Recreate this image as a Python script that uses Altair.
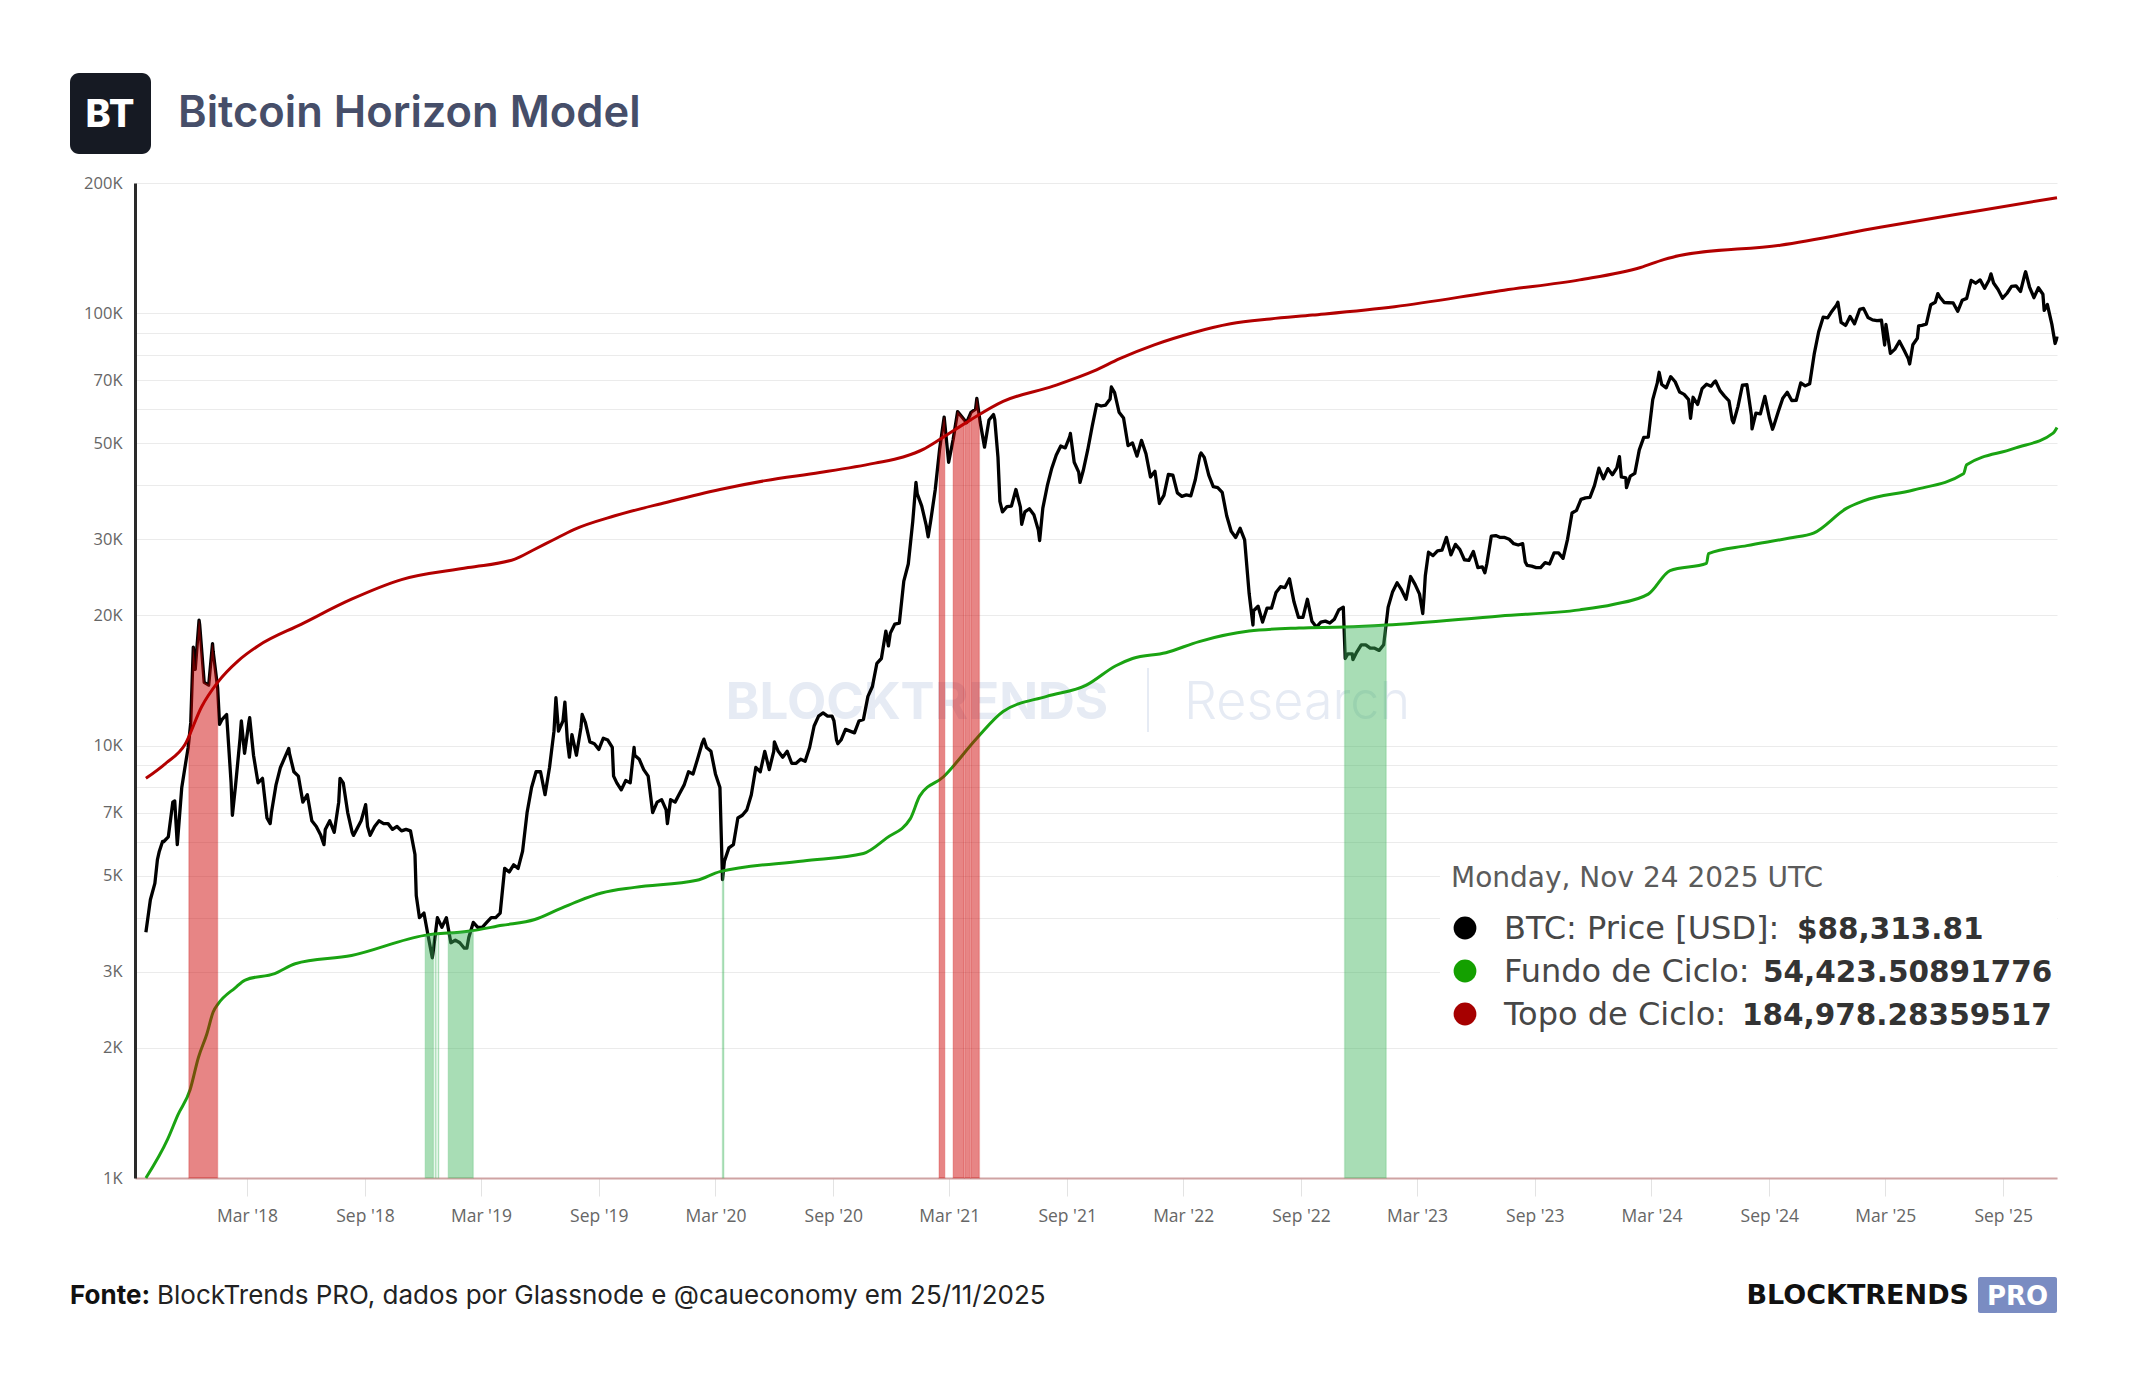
import altair as alt
import numpy as np
import pandas as pd

# ---------------- data ----------------
# weekly BTC closes, each list starts on the given Sunday
price_2017_start = "2017-09-24"
price_2017 = [3700, 4400, 4800, 5700, 6000, 6150, 7400, 5900, 8000, 9300, 11300, 15000, 19000, 14000, 13800]
price_2018_start = "2018-01-07"
price_2018 = [16500, 13600, 11500, 11800, 8200, 8100, 10400, 9600, 11400, 9500, 8200, 8400, 6800, 7000,
              8100, 8900, 9400, 9600, 8700, 8500, 7400, 7700, 6700, 6500, 6200, 6400, 6700, 6300, 7400,
              8200, 7000, 6300, 6400, 6700, 7300, 6200, 6500, 6700, 6600, 6600, 6400, 6500, 6350, 6400,
              6350, 5600, 4000, 4100, 3600, 3300, 4000, 3800]
price_2019_start = "2019-01-06"
price_2019 = [4000, 3500, 3550, 3500, 3400, 3600, 3900, 3800, 3800, 3900, 4000, 4000, 4100, 5200, 5100,
              5300, 5200, 5700, 7000, 8000, 8700, 8700, 7700, 8900, 10800, 10800, 11400, 10200, 10600,
              9500, 11000, 11300, 10200, 10100, 9800, 10400, 10300, 9900, 8200, 7900, 8300, 8200, 9500,
              9300, 8800, 8500, 7000, 7400, 7500, 7100, 7500, 7400]
price_2020_start = "2020-01-05"
price_2020 = [7750, 8100, 8700, 8600, 9300, 10100, 9900, 9700, 8600, 8000, 5400, 5800, 5900, 6800, 6900,
              7100, 7700, 8900, 8700, 9700, 8800, 9700, 9700, 9400, 9700, 9100, 9100, 9300, 9200, 9900,
              11100, 11700, 11900, 11700, 11700, 10300, 10300, 10900, 10800, 10700, 11400, 11500, 13000,
              13700, 15500, 15900, 18400, 18200, 19100, 19200, 24000, 26300]
price_2021_start = "2021-01-03"
price_2021 = [33000, 38200, 35800, 32300, 33100, 39000, 48600, 57500, 45200, 51000, 59200, 57500, 55800,
              59000, 60000, 56200, 49000, 56600, 58300, 46400, 34700, 35700, 35800, 39100, 35600, 34700,
              35300, 34200, 31500, 35400, 39900, 43800, 47000, 49300, 48800, 51800, 45200, 42900, 43200,
              48200, 54700, 61500, 61000, 61300, 63300, 65500, 59000, 57200, 49400, 50100, 46700, 50800]
price_2022_start = "2022-01-02"
price_2022 = [47300, 41800, 43100, 36300, 37900, 42400, 42200, 38400, 37700, 38000, 37800, 41200, 46800,
              46400, 42200, 39700, 39500, 38500, 34000, 31300, 30300, 31800, 29900, 22500, 20500, 21000,
              19300, 20800, 20800, 22600, 23300, 23200, 24300, 21500, 19800, 19800, 21800, 19400, 18800,
              19300, 19400, 19200, 19600, 20600, 20900, 16300, 16300, 16450, 17100, 17100, 16800, 16800]
price_2023_start = "2023-01-01"
price_2023 = [16600, 17100, 20900, 22700, 23800, 22900, 21800, 24600, 23600, 22400, 22100, 28000, 27500,
              28200, 28300, 30300, 27600, 29200, 28400, 26900, 26800, 28100, 25800, 25900, 26300, 30500,
              30600, 30300, 30300, 30000, 29300, 29100, 29300, 26100, 26000, 25800, 25800, 26500, 26300,
              27900, 27900, 27100, 30000, 34500, 35000, 37100, 37400, 37500, 39900, 43800, 41400, 43700,
              42300]
price_2024_start = "2024-01-07"
price_2024 = [43900, 41800, 41600, 42000, 42600, 48300, 51600, 51700, 63100, 68900, 68400, 67200, 71300,
              69400, 65700, 64900, 63100, 63900, 61500, 66900, 68500, 67800, 69700, 66200, 64300, 62700,
              55800, 60800, 68200, 68300, 58100, 58700, 58500, 64200, 57300, 54900, 59200, 63600, 65600,
              62800, 62900, 69000, 67900, 68700, 80400, 90600, 97900, 97500, 101200, 104500, 95200, 93700]
price_2025_start = "2025-01-05"
price_2025 = [98300, 94500, 101000, 102600, 97700, 96500, 96100, 96300, 94200, 80700, 82600, 86100, 82300,
              78400, 84500, 87500, 93700, 94300, 104600, 106000, 109000, 105800, 105700, 105600, 101000,
              107100, 108200, 119100, 117300, 119400, 114200, 119300, 117400, 113400, 108300, 111200,
              115300, 115700, 112200, 123500, 115100, 108600, 114500, 110600, 104700, 94200, 86800]
# intra-week swings and the last value
extra_dates = ["2017-10-12", "2017-10-20", "2017-11-08", "2017-11-29", "2017-12-07", "2017-12-16",
               "2018-01-06", "2018-01-17", "2018-02-06", "2018-02-20", "2018-03-05", "2018-04-06",
               "2018-05-05", "2018-06-29", "2018-07-24", "2018-08-14", "2018-09-05", "2018-11-20",
               "2018-12-15", "2019-02-07", "2019-06-26", "2019-07-10", "2019-07-17", "2019-08-06",
               "2019-09-24", "2019-10-26", "2019-12-17", "2020-02-12", "2020-03-12", "2020-06-01",
               "2020-09-02", "2020-09-08", "2020-11-26", "2021-01-08", "2021-01-27", "2021-04-13",
               "2021-05-11", "2021-05-19", "2021-06-22", "2021-07-20", "2021-09-06", "2021-09-21",
               "2021-11-09", "2022-01-24", "2022-03-29", "2022-06-18", "2022-11-09", "2022-11-21",
               "2023-03-10", "2023-03-14", "2023-06-15", "2023-08-17", "2024-01-11", "2024-01-22",
               "2024-03-13", "2024-05-01", "2024-06-07", "2024-07-05", "2024-07-29", "2024-08-05",
               "2024-09-06", "2024-12-17", "2025-01-20", "2025-02-28", "2025-04-08", "2025-04-22",
               "2025-05-22", "2025-08-13", "2025-10-06", "2025-11-04", "2025-11-21", "2025-11-24"]
extra_values = [5450, 6000, 7450, 9900, 16900, 19500,
                17200, 11200, 6900, 11400, 11600, 6600,
                9850, 5900, 8400, 6200, 6500, 4500,
                3230, 3400, 12900, 12600, 9400, 11800,
                8500, 9900, 6600, 10350, 4900, 10200,
                11400, 10100, 17000, 40600, 30400, 63500,
                56700, 36700, 32500, 29800, 52700, 40600,
                67500, 36600, 47500, 19000, 15900, 15800,
                20200, 24700, 25100, 26600, 46600, 39500,
                73000, 57100, 69300, 56600, 66800, 54000,
                53900, 106000, 102000, 84400, 76300, 93400,
                111000, 123300, 124700, 101500, 85100, 88313.81]

top_dates = ["2017-09-24", "2017-10-25", "2017-11-24", "2017-12-20", "2018-01-14", "2018-02-15",
             "2018-03-18", "2018-05-25", "2018-08-11", "2018-10-28", "2019-02-09", "2019-04-23",
             "2019-05-21", "2019-06-20", "2019-07-24", "2019-09-26", "2019-12-15", "2020-03-08",
             "2020-05-18", "2020-08-11", "2020-11-05", "2020-12-19", "2021-01-20", "2021-02-09",
             "2021-04-02", "2021-05-24", "2021-08-10", "2021-10-13", "2021-11-22", "2022-01-15",
             "2022-03-15", "2022-05-14", "2022-07-15", "2022-09-19", "2023-01-25", "2023-07-15",
             "2023-11-10", "2024-02-13", "2024-03-20", "2024-04-14", "2024-09-18", "2025-02-21",
             "2025-07-27", "2025-11-24"]
top_values = [8400, 9100, 10060, 12300, 14000, 15700, 17000, 19100, 21800, 24200, 25800, 27000, 28300,
              29800, 31600, 34000, 36500, 39100, 41000, 42800, 45000, 46500, 48500, 50500, 56500, 62500,
              67800, 73500, 78500, 84500, 90000, 94500, 97000, 99000, 103500, 113000, 119400, 127500,
              133000, 136000, 143600, 158000, 172800, 184978.28]

bottom_dates = ["2017-09-24", "2017-10-28", "2017-11-13", "2017-12-02", "2017-12-15", "2017-12-28",
                "2018-01-07", "2018-01-15", "2018-02-10", "2018-02-26", "2018-04-13", "2018-05-15",
                "2018-08-11", "2018-12-03", "2019-02-09", "2019-04-03", "2019-05-24", "2019-06-30",
                "2019-07-31", "2019-09-05", "2019-10-27", "2020-02-01", "2020-03-08", "2020-07-16",
                "2020-10-18", "2020-11-23", "2020-12-30", "2021-01-14", "2021-02-20", "2021-04-13",
                "2021-05-24", "2021-07-31", "2021-10-01", "2021-11-16", "2021-12-12", "2022-02-02",
                "2022-03-26", "2022-06-12", "2022-08-29", "2022-11-08", "2023-01-12", "2023-07-09",
                "2023-11-10", "2024-01-01", "2024-02-25", "2024-03-30", "2024-05-26", "2024-05-29",
                "2024-07-28", "2024-10-03", "2024-11-09", "2024-12-31", "2025-01-26", "2025-04-14",
                "2025-07-01", "2025-07-06", "2025-09-17", "2025-11-18", "2025-11-24"]
bottom_values = [1000, 1230, 1400, 1600, 1900, 2150, 2420, 2530, 2750, 2870, 2970, 3130, 3270, 3640,
                 3720, 3840, 3960, 4180, 4370, 4560, 4700, 4880, 5110, 5410, 5630, 6110, 6770, 7650,
                 8470, 10400, 11990, 13000, 13800, 15300, 15900, 16400, 17400, 18400, 18700, 18800,
                 19000, 19950, 20600, 21200, 22400, 25400, 26400, 27800, 29000, 30200, 31000, 35400,
                 36800, 39000, 42500, 44600, 48600, 52800, 54423.51]

red_band_start = ["2017-11-30", "2021-02-13", "2021-03-07", "2021-03-25", "2021-04-04"]
red_band_end = ["2018-01-14", "2021-02-22", "2021-03-24", "2021-04-03", "2021-04-17"]
green_band_start = ["2018-12-04", "2018-12-20", "2018-12-24", "2019-01-09", "2020-03-12", "2022-11-08"]
green_band_end = ["2018-12-17", "2018-12-21", "2018-12-25", "2019-02-17", "2020-03-14", "2023-01-12"]

y_grid_values = [1000, 2000, 3000, 4000, 5000, 6000, 7000, 8000, 9000, 10000, 20000, 30000, 40000,
                 50000, 60000, 70000, 80000, 90000, 100000, 200000]
y_label_values = [1000, 2000, 3000, 5000, 7000, 10000, 20000, 30000, 50000, 70000, 100000, 200000]
x_tick_dates = ["2018-03-01", "2018-09-01", "2019-03-01", "2019-09-01", "2020-03-01", "2020-09-01",
                "2021-03-01", "2021-09-01", "2022-03-01", "2022-09-01", "2023-03-01", "2023-09-01",
                "2024-03-01", "2024-09-01", "2025-03-01", "2025-09-01"]
x_domain = ["2017-09-07", "2025-11-24"]

title_text = "Bitcoin Horizon Model"
legend_header = "Monday, Nov 24 2025 UTC"
legend_labels = ["BTC: Price [USD]:", "Fundo de Ciclo:", "Topo de Ciclo:"]
legend_values = ["$88,313.81", "54,423.50891776", "184,978.28359517"]
footer_bold = "Fonte:"
footer_text = "BlockTrends PRO, dados por Glassnode e @caueconomy em 25/11/2025"

# ---------------- frames ----------------
parts = []
for start, vals in [(price_2017_start, price_2017), (price_2018_start, price_2018),
                    (price_2019_start, price_2019), (price_2020_start, price_2020),
                    (price_2021_start, price_2021), (price_2022_start, price_2022),
                    (price_2023_start, price_2023), (price_2024_start, price_2024),
                    (price_2025_start, price_2025)]:
    parts.append(pd.DataFrame({"date": pd.date_range(start, periods=len(vals), freq="7D"), "v": vals}))
parts.append(pd.DataFrame({"date": pd.to_datetime(extra_dates), "v": extra_values}))
price_df = pd.concat(parts).sort_values("date").drop_duplicates("date", keep="last").reset_index(drop=True)


def day_num(s):
    return pd.to_datetime(pd.Series(s)).values.astype("datetime64[D]").astype(float)


price_num = day_num(price_df["date"])
price_val = price_df["v"].to_numpy(dtype=float)
bottom_num = day_num(bottom_dates)
bottom_val = np.array(bottom_values, dtype=float)


def band_frames(starts, ends, ref_num, ref_val):
    frames = []
    for s, e in zip(starts, ends):
        sd, ed = day_num([s, e])
        inner = price_num[(price_num > sd) & (price_num < ed)]
        ds = np.concatenate([[sd], inner, [ed]])
        vs = np.exp(np.interp(ds, ref_num, np.log(ref_val)))
        frames.append(pd.DataFrame({"date": [str(np.datetime64(int(d), "D")) for d in ds], "v": vs}))
    return frames


red_frames = band_frames(red_band_start, red_band_end, price_num, price_val)
green_frames = band_frames(green_band_start, green_band_end, bottom_num, bottom_val)

price_df["date"] = price_df["date"].dt.strftime("%Y-%m-%d")
top_df = pd.DataFrame({"date": top_dates, "v": top_values})
bottom_df = pd.DataFrame({"date": bottom_dates, "v": bottom_values})


def dt(s):
    y, m, d = (int(p) for p in s.split("-"))
    return alt.DateTime(year=y, month=m, date=d, utc=True)


W, H = 1922, 995
xscale = alt.Scale(type="utc", domain=[dt(x_domain[0]), dt(x_domain[1])])
yscale = alt.Scale(type="log", domain=[1000, 200000], nice=False)
label_arr = "[" + ",".join(str(v) for v in y_label_values) + "]"
xaxis = alt.Axis(values=[dt(s) for s in x_tick_dates], format="%b '%y", title=None, grid=False,
                 labelFont="Open Sans", labelFontSize=17.5, labelColor="#666666",
                 labelBaseline="alphabetic", labelPadding=25, tickColor="#e3e3e3", tickSize=18,
                 tickWidth=1, domainColor="#cfa3a3", domainWidth=2, labelFlush=False, labelOverlap=False)
yaxis = alt.Axis(values=y_grid_values, title=None, grid=True, gridColor="#ebebeb", gridWidth=1,
                 ticks=False, domainColor="#2a2a2a", domainWidth=3, labelFont="Open Sans",
                 labelFontSize=16.5, labelColor="#666666", labelPadding=13, labelOverlap=False,
                 labelExpr="indexof(" + label_arr + ", datum.value) >= 0 ? (datum.value/1000) + 'K' : ''")


def X(field="date"):
    return alt.X(field, type="temporal", scale=xscale, axis=xaxis)


def Y():
    return alt.Y("v", type="quantitative", scale=yscale, axis=yaxis, stack=None)


one = pd.DataFrame({"k": [0]})


def txt(s, x, y, size, color, weight="normal", font="Inter", align="left", baseline="alphabetic"):
    return alt.Chart(pd.DataFrame({"t": [s]})).mark_text(
        align=align, baseline=baseline, font=font, fontSize=size, fontWeight=weight, color=color
    ).encode(x=alt.value(x), y=alt.value(y), text="t:N")


def box(x1, x2, y1, y2, color, radius=0):
    return alt.Chart(one).mark_rect(color=color, cornerRadius=radius).encode(
        x=alt.value(x1), x2=alt.value(x2), y=alt.value(y1), y2=alt.value(y2))


wm = "#e6ebf4"
watermark = [
    txt("BLOCKTRENDS", 782, 536, 51, wm, weight="bold", align="center"),
    alt.Chart(one).mark_rule(color=wm, strokeWidth=2).encode(
        x=alt.value(1013), y=alt.value(485), y2=alt.value(549)),
    txt("Research", 1049, 536, 52, wm, weight=300),
]

price_line = alt.Chart(price_df).mark_line(color="#000000", strokeWidth=3.3, strokeJoin="round").encode(
    x=X(), y=Y())
top_line = alt.Chart(top_df).mark_line(color="#b20000", strokeWidth=3, interpolate="monotone").encode(
    x=X(), y=Y())
bottom_line = alt.Chart(bottom_df).mark_line(color="#1aa312", strokeWidth=3, interpolate="monotone").encode(
    x=X(), y=Y())

bands = []
for f in red_frames:
    bands.append(alt.Chart(f).mark_area(fill="#cc0000", fillOpacity=0.48, stroke="#cc0000",
                                        strokeOpacity=0.18, strokeWidth=1.5).encode(x=X(), y=Y()))
for f in green_frames:
    bands.append(alt.Chart(f).mark_area(fill="#3db35a", fillOpacity=0.45, stroke="#3db35a",
                                        strokeOpacity=0.2, strokeWidth=1.5).encode(x=X(), y=Y()))

legend_colors = ["#000000", "#14a000", "#a60000"]
legend_y = [756, 799, 842]
legend_value_x = [1662, 1628, 1607]
legend = [box(1305, 1922, 668, 858, "#ffffff"),
          txt(legend_header, 1316, 704, 28, "#5b5b5b", font="DejaVu Sans")]
for i in range(3):
    legend.append(alt.Chart(one).mark_circle(size=520, opacity=1, color=legend_colors[i]).encode(
        x=alt.value(1330), y=alt.value(legend_y[i] - 11)))
    legend.append(txt(legend_labels[i], 1369, legend_y[i], 32, "#474747", font="DejaVu Sans"))
    legend.append(txt(legend_values[i], legend_value_x[i], legend_y[i], 29.5, "#333333",
                      weight="bold", font="DejaVu Sans"))

header = [
    box(-65, 16, -110, -29, "#161a23", radius=9),
    txt("BT", -25, -56, 38, "#ffffff", weight=800, align="center"),
    txt(title_text, 43, -56, 43.5, "#464e69", weight=600),
]
footer = [
    txt(footer_bold, -65, 1121, 26, "#111111", weight="bold"),
    txt(footer_text, 22, 1121, 26, "#222222"),
    txt("BLOCKTRENDS", 1834, 1121, 27, "#111111", weight="bold", font="DejaVu Sans", align="right"),
    box(1843, 1922, 1094, 1130, "#7a8cc2", radius=2),
    txt("PRO", 1882.5, 1122, 26, "#ffffff", weight="bold", font="DejaVu Sans", align="center"),
]

chart = alt.layer(
    *watermark, price_line, top_line, bottom_line, *bands, *legend, *header, *footer
).properties(
    width=W, height=H,
    padding={"left": 135, "top": 183, "right": 87, "bottom": 222},
    autosize=alt.AutoSizeParams(type="none"),
    background="#ffffff",
).configure_view(stroke=None)

chart.save("out.html", embed_options={"renderer": "svg", "actions": False})
